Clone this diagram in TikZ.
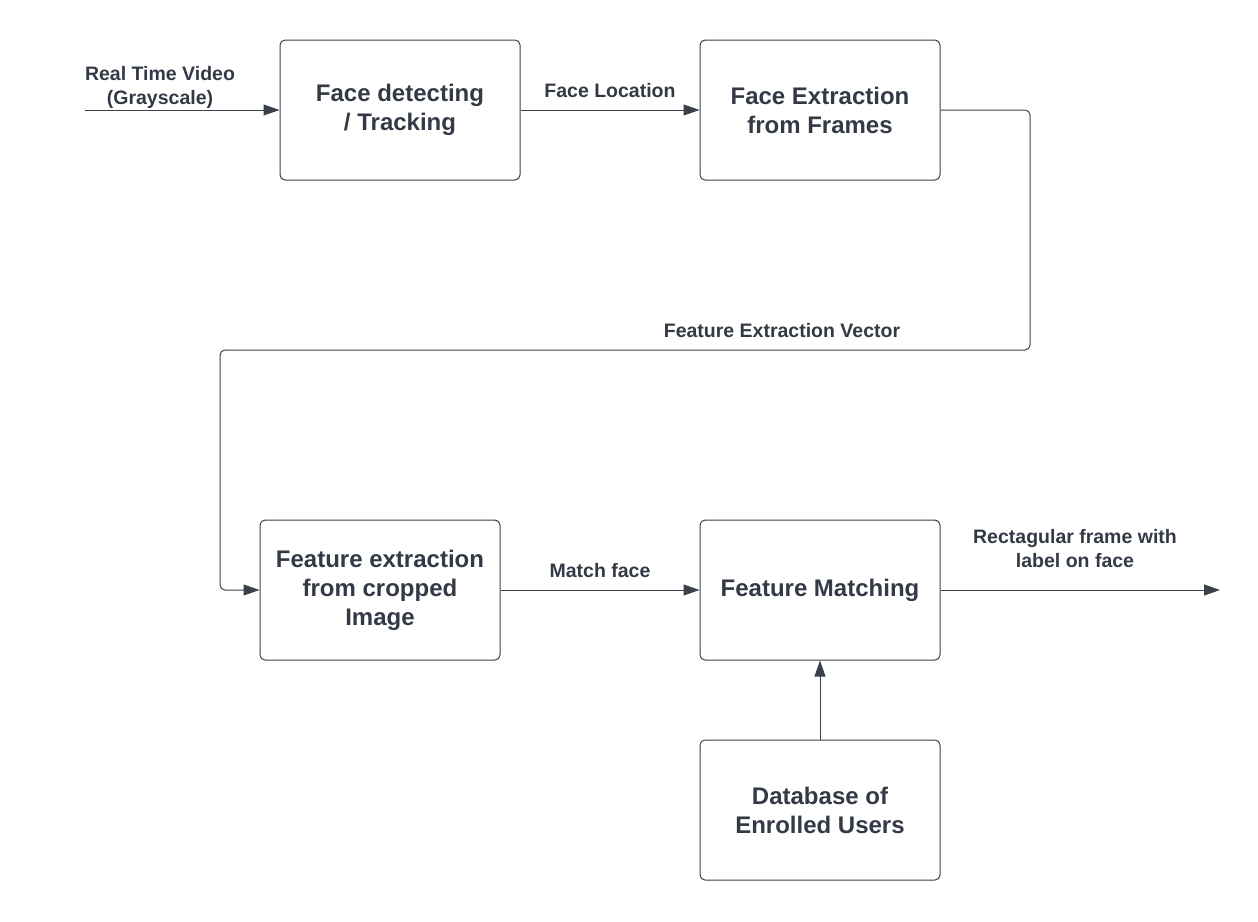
\documentclass[tikz,border=0pt]{standalone}
\usepackage{fontspec}
\setmainfont{Liberation Sans}
\usetikzlibrary{arrows.meta}
\definecolor{inkgray}{HTML}{333A45}
\definecolor{linegray}{HTML}{3A414A}
\tikzset{
	block/.style = {
		draw = linegray,
		line width = 1pt,
		rounded corners = 5pt,
		minimum width = 240pt,
		minimum height = 140pt,
		align = center,
		text = inkgray,
		font = \fontsize{24}{29}\selectfont\bfseries,
	},
	flowlabel/.style = {
		align = center,
		text = inkgray,
		inner sep = 0pt,
		font = \fontsize{19.5}{24}\selectfont\bfseries,
	},
	flow/.style = {
		draw = linegray,
		line width = 1pt,
		-{Triangle[length = 16pt, width = 11pt]},
	},
}

\begin{document}
\begin{tikzpicture}[x = 1pt, y = -1pt]
		\useasboundingbox (0, 0) rectangle (1258, 921);
		% boxes
		\node[block] (detect) at (400, 110) {Face detecting\\/ Tracking};
		\node[block] (extract) at (820, 110) {Face Extraction\\from Frames};
		\node[block] (featext) at (380, 590) {Feature extraction\\from cropped\\Image};
		\node[block] (match) at (820, 590) {Feature Matching};
		\node[block] (db) at (820, 810) {Database of\\Enrolled Users};
		% free ends and bends
		\coordinate (input) at (85, 110);
		\coordinate (output) at (1220, 590);
		\coordinate (bendR) at (1030, 350);
		\coordinate (bendL) at (220, 350);
		% connectors
		\draw[flow] (input) -- (detect.west);
		\draw[flow] (detect.east) -- (extract.west);
		\draw[flow, rounded corners = 5pt] (extract.east) -| (bendR) -- (bendL) |- (featext.west);
		\draw[flow] (featext.east) -- (match.west);
		\draw[flow] (match.east) -- (output);
		\draw[flow] (db.north) -- (match.south);
		% labels
		\node[flowlabel] (inputlabel) at (160, 87) {Real Time Video\\(Grayscale)};
		\node[flowlabel] (loclabel) at (610, 91) {Face Location};
		\node[flowlabel] (veclabel) at (782, 331) {Feature Extraction Vector};
		\node[flowlabel] (matchlabel) at (600, 571) {Match face};
		\node[flowlabel] (outlabel) at (1075, 549) {Rectagular frame with\\label on face};
	\end{tikzpicture}
\end{document}
